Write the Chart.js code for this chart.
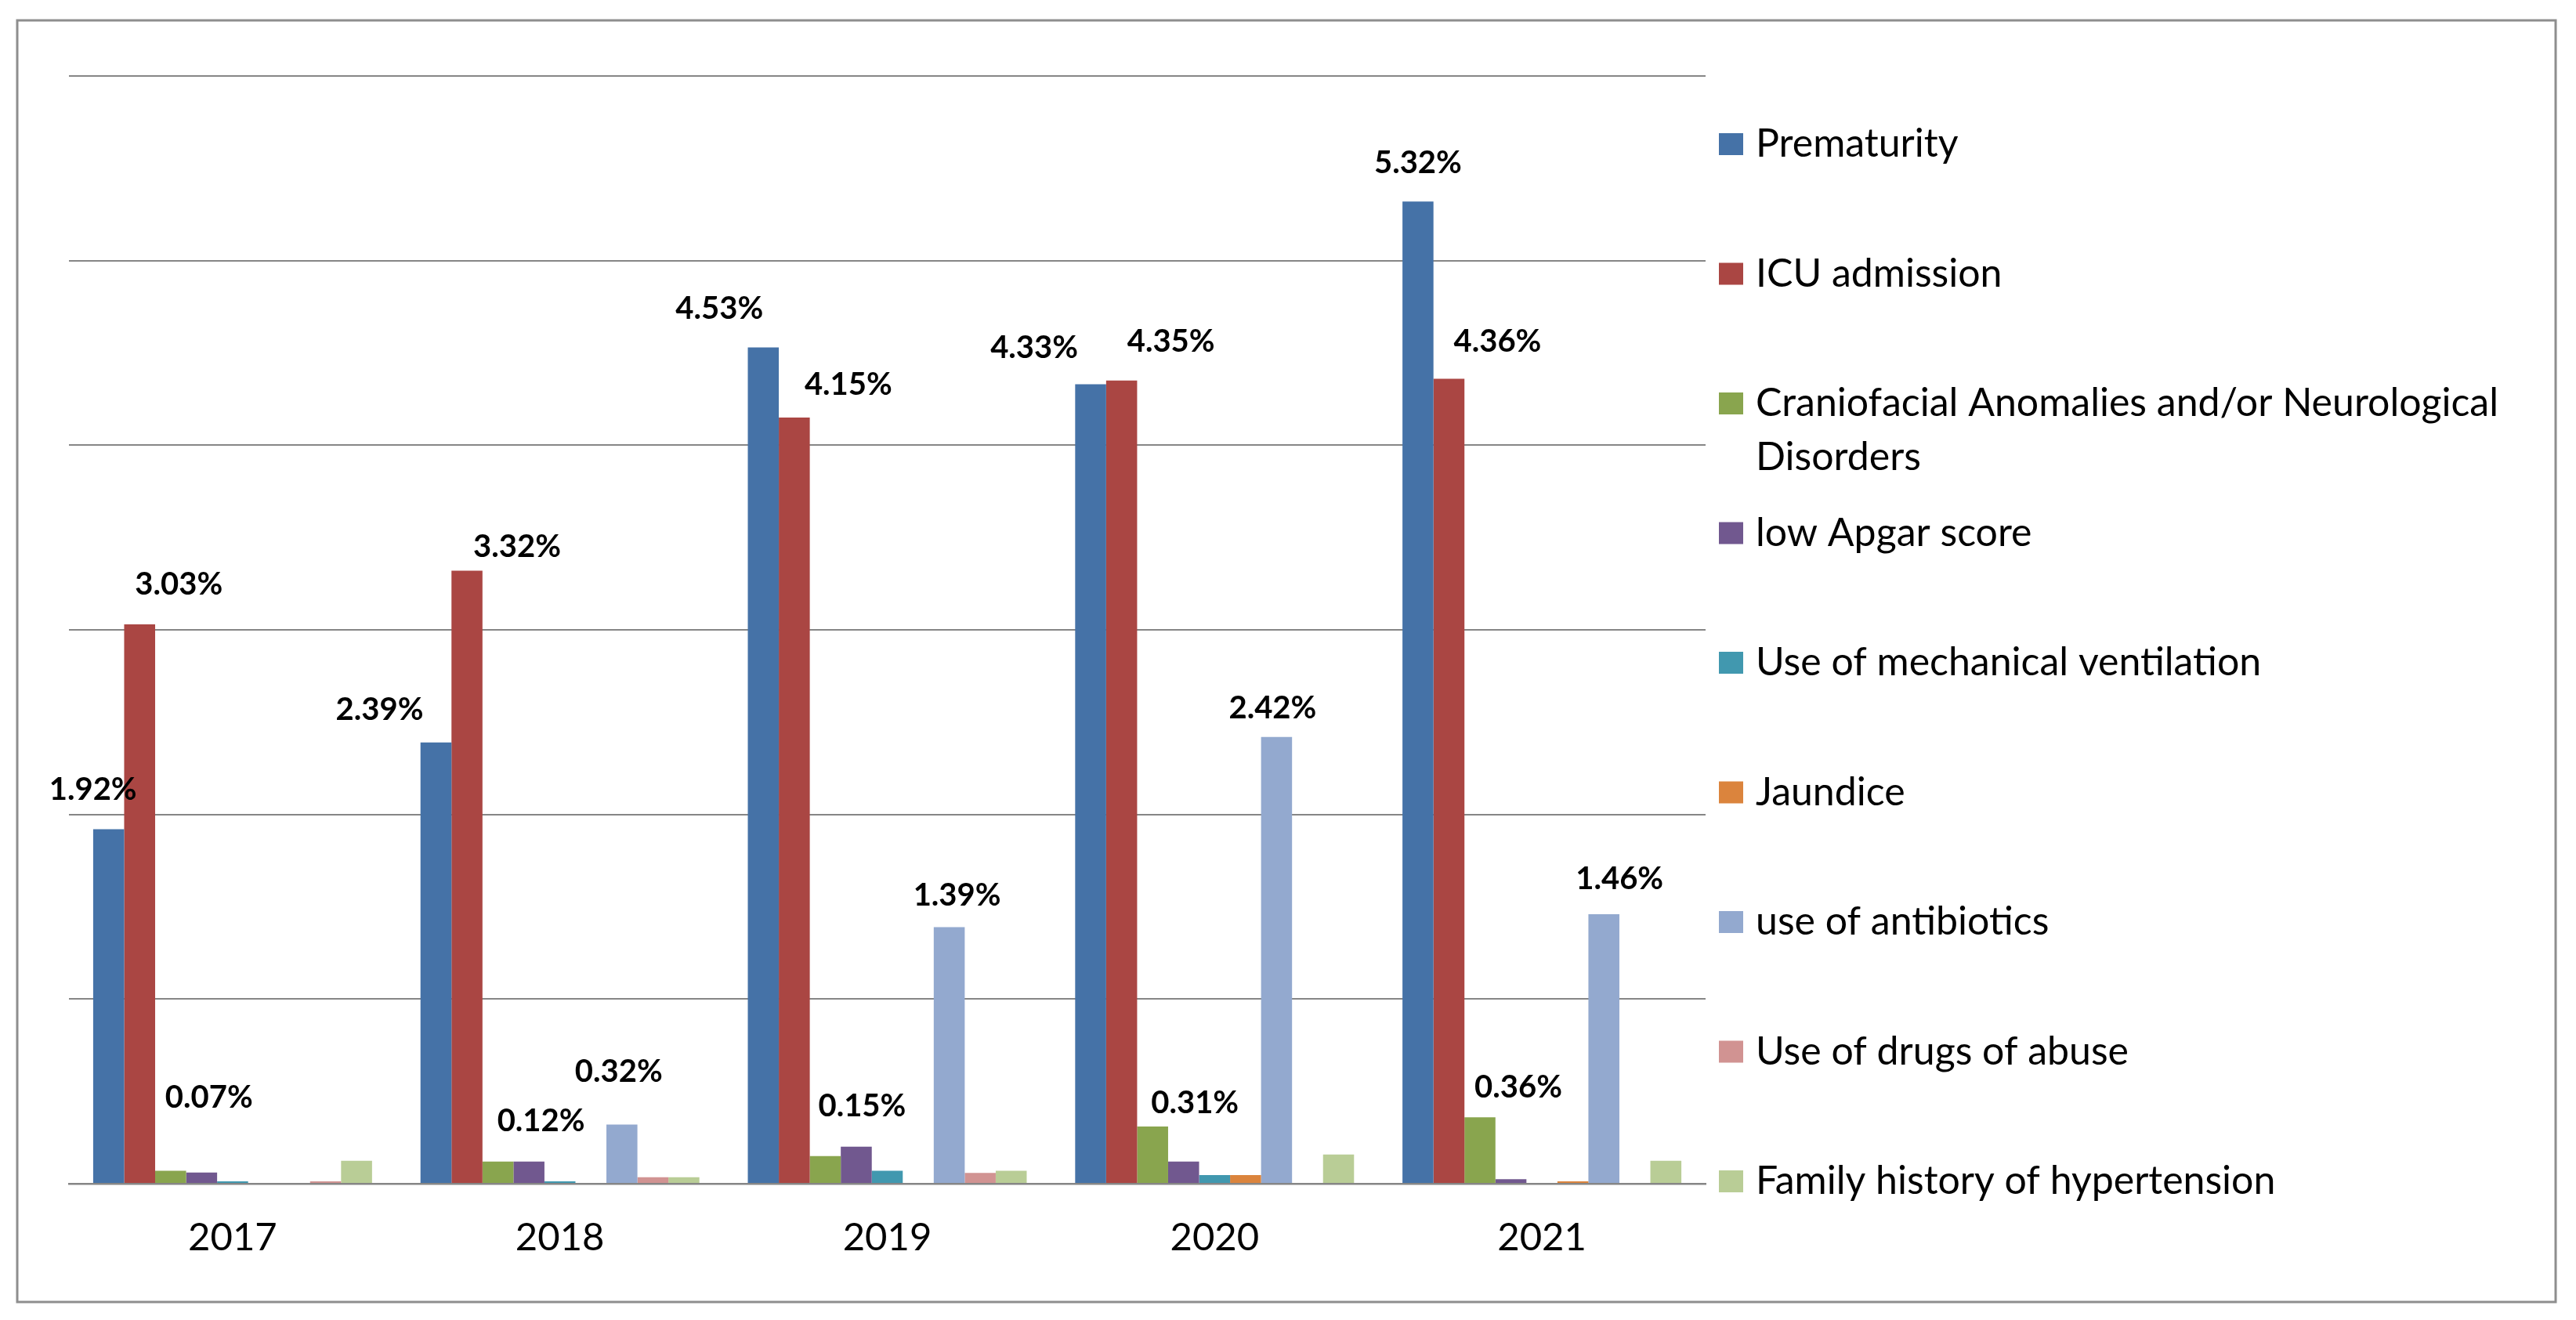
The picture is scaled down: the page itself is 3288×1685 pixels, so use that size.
<!DOCTYPE html>
<html>
<head>
<meta charset="utf-8">
<title>Neonatal outcomes 2017-2021</title>
<script src="https://cdn.jsdelivr.net/npm/chart.js@4.4.1/dist/chart.umd.min.js"></script>
<style>
  html, body { margin: 0; padding: 0; background: #fff; }
  canvas { display: block; }
</style>
</head>
<body>
<canvas id="chart" width="3288" height="1685"></canvas>
<script>
// years on the x axis
const YEARS = ["2017", "2018", "2019", "2020", "2021"];

// series values, in percent
const PREMATURITY   = [1.92, 2.39, 4.53, 4.33, 5.32];
const ICU_ADMISSION = [3.03, 3.32, 4.15, 4.35, 4.36];
const CRANIOFACIAL  = [0.07, 0.12, 0.15, 0.31, 0.36];
const LOW_APGAR     = [0.06, 0.12, 0.20, 0.12, 0.024];
const MECH_VENT     = [0.013, 0.013, 0.07, 0.047, 0];
const JAUNDICE      = [0, 0, 0, 0.047, 0.013];
const ANTIBIOTICS   = [0, 0.32, 1.39, 2.42, 1.46];
const DRUGS         = [0.013, 0.035, 0.058, 0, 0];
const FAMILY_HTN    = [0.124, 0.035, 0.07, 0.158, 0.124];

const SERIES_NAMES = [
    "Prematurity",
    "ICU admission",
    "Craniofacial Anomalies and/or Neurological Disorders",
    "low Apgar score",
    "Use of mechanical ventilation",
    "Jaundice",
    "use of antibiotics",
    "Use of drugs of abuse",
    "Family history of hypertension",
];
const SERIES_VALUES = [PREMATURITY, ICU_ADMISSION, CRANIOFACIAL, LOW_APGAR,
    MECH_VENT, JAUNDICE, ANTIBIOTICS, DRUGS, FAMILY_HTN];

// y axis range (no tick labels drawn, gridlines every 1%)
const Y_MIN = 0;
const Y_MAX = 6;
const Y_STEP = 1;

// which bars carry a value label (series index -> year indices)
const LABELLED = { 0: [0, 1, 2, 3, 4], 1: [0, 1, 2, 3, 4], 2: [0, 1, 2, 3, 4], 6: [1, 2, 3, 4] };

// ---- styling ----
const COLORS = ["#4572A7", "#AA4643", "#89A54E", "#71588F", "#4198AF",
                "#DB843D", "#93A9CF", "#D19392", "#B9CD96"];
const FONT = "Lato, 'Open Sans', sans-serif";
const GRID = "#868686";

// hand-placed label offsets from the bar top centre: [dx, up]
const LABEL_NUDGE = {
    "0-0": [-20, 50], "0-1": [-72, 42], "0-2": [-56, 49], "0-3": [-72, 46], "0-4": [0, 49],
    "1-0": [50, 51], "1-1": [64, 30], "1-2": [69, 42], "1-3": [63, 50], "1-4": [62, 47],
    "2-0": [49, 93], "2-1": [55, 52], "2-2": [47, 64], "2-3": [54, 30], "2-4": [49, 38],
    "6-1": [-4, 67], "6-2": [10, 40], "6-3": [-5, 37], "6-4": [20, 45],
};

const framePlugin = {
    id: "frame",
    beforeDraw(chart) {
        const ctx = chart.ctx;
        ctx.save();
        ctx.fillStyle = "#fff";
        ctx.fillRect(0, 0, chart.width, chart.height);
        ctx.strokeStyle = "#8e8e8e";
        ctx.lineWidth = 3;
        ctx.strokeRect(22, 26, 3240, 1636);
        ctx.restore();
    },
};

const valueLabels = {
    id: "valueLabels",
    afterDatasetsDraw(chart) {
        const ctx = chart.ctx;
        ctx.save();
        ctx.font = "bold 40px " + FONT;
        ctx.fillStyle = "#000";
        ctx.textAlign = "center";
        ctx.textBaseline = "middle";
        for (const key of Object.keys(LABELLED)) {
            const si = Number(key);
            const meta = chart.getDatasetMeta(si);
            for (const yi of LABELLED[key]) {
                const bar = meta.data[yi];
                const nudge = LABEL_NUDGE[si + "-" + yi] || [0, 30];
                const v = chart.data.datasets[si].data[yi];
                ctx.fillText(v.toFixed(2) + "%", bar.x + nudge[0], bar.y - nudge[1]);
            }
        }
        ctx.restore();
    },
};

function wrapText(ctx, text, maxWidth) {
    const words = text.split(" ");
    const lines = [];
    let line = "";
    for (const w of words) {
        const test = line ? line + " " + w : w;
        if (line && ctx.measureText(test).width > maxWidth) {
            lines.push(line);
            line = w;
        } else {
            line = test;
        }
    }
    if (line) { lines.push(line); }
    return lines;
}

const sideLegend = {
    id: "sideLegend",
    afterDraw(chart) {
        const ctx = chart.ctx;
        const boxX = 2194, textX = 2241, firstY = 184, step = 165.5, lineGap = 69;
        ctx.save();
        ctx.font = "50px " + FONT;
        ctx.textBaseline = "middle";
        ctx.textAlign = "left";
        chart.data.datasets.forEach((ds, i) => {
            const y = firstY + step * i;
            ctx.fillStyle = ds.backgroundColor;
            ctx.fillRect(boxX, y - 14, 31, 28);
            ctx.fillStyle = "#000";
            const lines = wrapText(ctx, ds.label, 1000);
            lines.forEach((ln, k) => ctx.fillText(ln, textX, y + k * lineGap));
        });
        ctx.restore();
    },
};

new Chart(document.getElementById("chart"), {
    type: "bar",
    data: {
        labels: YEARS,
        datasets: SERIES_NAMES.map((name, i) => ({
            label: name,
            data: SERIES_VALUES[i],
            backgroundColor: COLORS[i],
            borderWidth: 0,
            categoryPercentage: 0.852,
            barPercentage: 1.0,
        })),
    },
    options: {
        responsive: false,
        animation: false,
        devicePixelRatio: 1,
        layout: { padding: { left: 88, right: 1111, top: 97, bottom: 54 } },
        plugins: {
            legend: { display: false },
            tooltip: { enabled: false },
        },
        scales: {
            x: {
                grid: { display: false, drawTicks: false },
                border: { display: true, color: GRID, width: 2.5 },
                ticks: {
                    color: "#000",
                    font: { family: FONT, size: 49 },
                    padding: 40,
                    maxRotation: 0,
                },
                afterFit(scale) { scale.height = 120; },
            },
            y: {
                min: Y_MIN,
                max: Y_MAX,
                ticks: { display: false, stepSize: Y_STEP },
                grid: { color: GRID, lineWidth: 2, drawTicks: false },
                border: { display: false },
                afterFit(scale) { scale.width = 0; },
            },
        },
    },
    plugins: [framePlugin, valueLabels, sideLegend],
});
</script>
</body>
</html>
